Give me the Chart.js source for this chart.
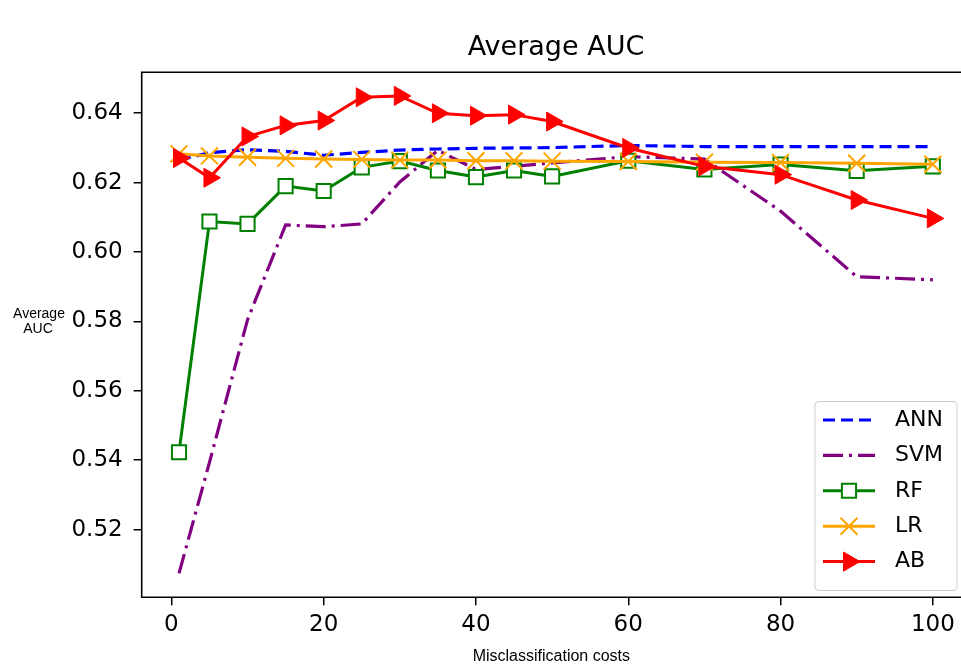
<!DOCTYPE html>
<html>
<head>
<meta charset="utf-8">
<title>Average AUC</title>
<script src="https://cdn.jsdelivr.net/npm/chart.js@4.4.0/dist/chart.umd.min.js"></script>
<style>
  html, body { margin: 0; padding: 0; background: #fff; overflow: hidden; }
  #wrap { width: 961px; height: 667px; }
</style>
</head>
<body>
<div id="wrap"><canvas id="aucChart" width="961" height="667"></canvas></div>
<script>
// misclassification costs (x values)
const costs = [1, 5, 10, 15, 20, 25, 30, 35, 40, 45, 50, 60, 70, 80, 90, 100];

// average AUC per model
const ann = [0.6265, 0.6286, 0.6295, 0.6290, 0.6279, 0.6287, 0.6294, 0.6297, 0.6299, 0.6300, 0.6301, 0.6307, 0.6304, 0.6304, 0.6304, 0.6304];
const svm = [0.5074, 0.5394, 0.5805, 0.6078, 0.6073, 0.6081, 0.6202, 0.6293, 0.6238, 0.6247, 0.6257, 0.6275, 0.6268, 0.6118, 0.5929, 0.5920];
const rf  = [0.5423, 0.6088, 0.6081, 0.6190, 0.6176, 0.6244, 0.6262, 0.6235, 0.6216, 0.6235, 0.6218, 0.6263, 0.6238, 0.6252, 0.6234, 0.6247];
const lr  = [0.6283, 0.6277, 0.6273, 0.6270, 0.6268, 0.6267, 0.6265, 0.6265, 0.6263, 0.6263, 0.6262, 0.6261, 0.6259, 0.6258, 0.6256, 0.6253];
const ab  = [0.6271, 0.6214, 0.6333, 0.6365, 0.6379, 0.6446, 0.6450, 0.6400, 0.6393, 0.6396, 0.6376, 0.6300, 0.6247, 0.6223, 0.6150, 0.6097];

const xTicks = [0, 20, 40, 60, 80, 100];
const yTicks = [0.52, 0.54, 0.56, 0.58, 0.60, 0.62, 0.64];

const titleText = "Average AUC";
const xLabel = "Misclassification costs";
const yLabelLines = ["Average", "AUC"];

const pts = arr => costs.map((c, i) => ({ x: c, y: arr[i] }));

const datasets = [
    { label: "ANN", data: pts(ann), borderColor: "#0000ff", borderWidth: 3.2, borderDash: [12, 6],
      pointRadius: 0, order: 4 },
    { label: "SVM", data: pts(svm), borderColor: "#800080", borderWidth: 3.2, borderDash: [20, 6, 3, 6],
      pointRadius: 0, order: 3 },
    { label: "RF", data: pts(rf), borderColor: "#008000", borderWidth: 3, pointStyle: "rect",
      pointRadius: 10, pointBorderWidth: 2, pointBackgroundColor: "#ffffff", pointBorderColor: "#008000", order: 2 },
    { label: "LR", data: pts(lr), borderColor: "#ffa500", borderWidth: 3, pointStyle: "crossRot",
      pointRadius: 12, pointBorderWidth: 2, pointBorderColor: "#ffa500", order: 1 },
    { label: "AB", data: pts(ab), borderColor: "#ff0000", borderWidth: 3, pointStyle: "triangle", pointRotation: 90,
      pointRadius: 11, pointBorderWidth: 1, pointBackgroundColor: "#ff0000", pointBorderColor: "#ff0000", order: 0 }
];

function drawMarker(ctx, ds, x, y) {
    const r = ds.pointRadius;
    ctx.save();
    ctx.setLineDash([]);
    ctx.lineWidth = ds.pointBorderWidth;
    ctx.strokeStyle = ds.pointBorderColor;
    ctx.fillStyle = ds.pointBackgroundColor || ds.pointBorderColor;
    ctx.beginPath();
    if (ds.pointStyle === "rect") {
        const s = Math.SQRT1_2 * r;
        ctx.rect(x - s, y - s, 2 * s, 2 * s);
        ctx.fill(); ctx.stroke();
    } else if (ds.pointStyle === "crossRot") {
        const o = Math.SQRT1_2 * r;
        ctx.moveTo(x - o, y - o); ctx.lineTo(x + o, y + o);
        ctx.moveTo(x - o, y + o); ctx.lineTo(x + o, y - o);
        ctx.stroke();
    } else if (ds.pointStyle === "triangle") {
        // pointing right, same geometry as chart.js with rotation 90
        ctx.moveTo(x + r, y);
        ctx.lineTo(x - r / 2, y - r * Math.sqrt(3) / 2);
        ctx.lineTo(x - r / 2, y + r * Math.sqrt(3) / 2);
        ctx.closePath();
        ctx.fill(); ctx.stroke();
    }
    ctx.restore();
}

const frame = {
    id: "frame",
    beforeDraw(chart) {
        const ctx = chart.ctx;
        ctx.save();
        ctx.fillStyle = "#fff";
        ctx.fillRect(0, 0, chart.width, chart.height);
        ctx.restore();
    },
    afterDatasetsDraw(chart) {
        const { ctx, chartArea: a } = chart;
        ctx.save();
        // right spine sits just past the picture's edge, so only three sides
        ctx.strokeStyle = "#000";
        ctx.lineWidth = 1.6;
        ctx.beginPath();
        ctx.moveTo(chart.width, a.top);
        ctx.lineTo(a.left, a.top);
        ctx.lineTo(a.left, a.bottom);
        ctx.lineTo(chart.width, a.bottom);
        ctx.stroke();

        ctx.fillStyle = "#000";
        ctx.textAlign = "center";
        ctx.textBaseline = "middle";
        ctx.font = "27px 'DejaVu Sans'";
        ctx.fillText(titleText, 556, 48);

        ctx.font = "14px 'Liberation Sans'";
        ctx.fillText(yLabelLines[0], 39, 314);
        ctx.fillText(yLabelLines[1], 38, 329);
        ctx.restore();
    }
};

const legendBox = {
    id: "legendBox",
    afterDraw(chart) {
        const ctx = chart.ctx;
        const bx = 815, by = 401.5, bw = 142, bh = 189, rad = 4;
        ctx.save();
        ctx.beginPath();
        ctx.moveTo(bx + rad, by);
        ctx.arcTo(bx + bw, by, bx + bw, by + bh, rad);
        ctx.arcTo(bx + bw, by + bh, bx, by + bh, rad);
        ctx.arcTo(bx, by + bh, bx, by, rad);
        ctx.arcTo(bx, by, bx + bw, by, rad);
        ctx.closePath();
        ctx.fillStyle = "rgba(255,255,255,0.8)";
        ctx.fill();
        ctx.strokeStyle = "#cccccc";
        ctx.lineWidth = 1;
        ctx.stroke();

        chart.data.datasets.forEach((ds, i) => {
            const y = 420 + i * 35.4;
            ctx.save();
            ctx.strokeStyle = ds.borderColor;
            ctx.lineWidth = ds.borderWidth;
            ctx.setLineDash(ds.borderDash || []);
            ctx.beginPath();
            ctx.moveTo(823, y);
            ctx.lineTo(875, y);
            ctx.stroke();
            ctx.restore();
            if (ds.pointRadius) drawMarker(ctx, ds, 849, y);
            ctx.fillStyle = "#000";
            ctx.font = "22px 'DejaVu Sans'";
            ctx.textAlign = "left";
            ctx.textBaseline = "middle";
            ctx.fillText(ds.label, 895, y);
        });
        ctx.restore();
    }
};

new Chart(document.getElementById("aucChart"), {
    type: "line",
    data: { datasets },
    options: {
        responsive: false,
        maintainAspectRatio: false,
        devicePixelRatio: 1,
        animation: false,
        layout: { autoPadding: false, padding: { top: 72.3, right: 0, left: 0, bottom: 0 } },
        plugins: { legend: { display: false }, tooltip: { enabled: false }, title: { display: false } },
        elements: { line: { tension: 0, borderCapStyle: "butt" } },
        scales: {
            x: {
                type: "linear",
                min: -3.9,
                max: 103.7,
                afterFit: s => { s.height = 69.7; s.paddingLeft = 0; s.paddingRight = 0; },
                afterBuildTicks: s => { s.ticks = xTicks.map(v => ({ value: v })); },
                grid: { drawOnChartArea: false, drawTicks: true, tickLength: 8, color: "#000", lineWidth: 1.5 },
                border: { display: false },
                ticks: { color: "#000", padding: 6, maxRotation: 0, font: { family: "DejaVu Sans", size: 23 },
                         callback: v => String(v) },
                title: { display: true, text: xLabel, color: "#000", padding: { top: 0, bottom: 1 },
                         font: { family: "Liberation Sans", size: 16 } }
            },
            y: {
                type: "linear",
                min: 0.5005,
                max: 0.6518,
                afterFit: s => { s.width = 141.7; s.paddingTop = 0; s.paddingBottom = 0; },
                afterBuildTicks: s => { s.ticks = yTicks.map(v => ({ value: v })); },
                grid: { drawOnChartArea: false, drawTicks: true, tickLength: 8, color: "#000", lineWidth: 1.5 },
                border: { display: false },
                ticks: { color: "#000", padding: 11, font: { family: "DejaVu Sans", size: 23 },
                         callback: v => v.toFixed(2) }
            }
        }
    },
    plugins: [frame, legendBox]
});
</script>
</body>
</html>
